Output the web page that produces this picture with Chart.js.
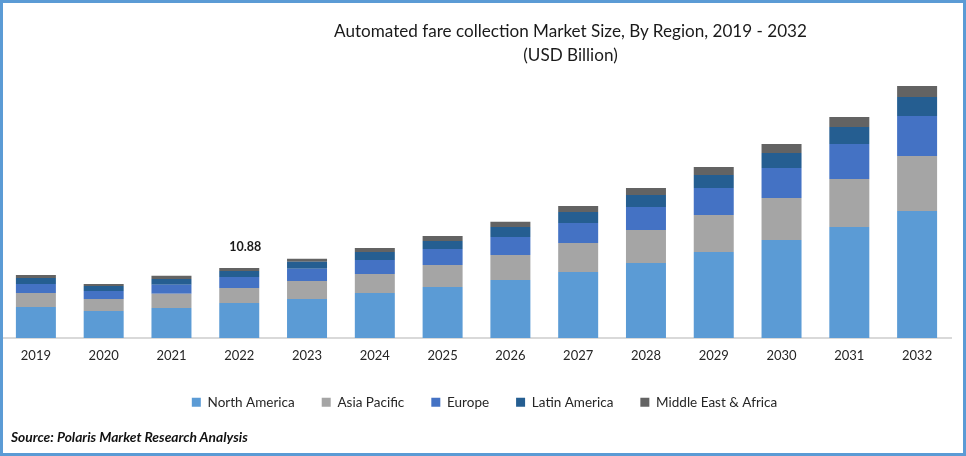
<!DOCTYPE html>
<html><head><meta charset="utf-8">
<style>
html,body{margin:0;padding:0;background:#fff;width:966px;height:456px;overflow:hidden}
#wrap{position:relative;width:966px;height:456px}
canvas{position:absolute;left:0;top:0}
#frame{position:absolute;left:0;top:0;width:966px;height:456px;box-sizing:border-box;border:3px solid #5b9bd5;pointer-events:none}
.t{position:absolute;font-family:Lato,sans-serif;color:#1a1a1a;white-space:nowrap}
#title{left:175px;width:791px;top:19px;text-align:center;font-size:17.1px;line-height:24px}
#source{left:11px;top:428px;font-size:13.8px;font-weight:bold;font-style:italic;color:#111}
</style></head><body>
<div id="wrap">
<canvas id="c" width="966" height="456"></canvas>
<div id="frame"></div>
<div id="title" class="t">Automated fare collection Market Size, By Region, 2019 - 2032<br>(USD Billion)</div>
<div id="source" class="t">Source: Polaris Market Research Analysis</div>
</div>
<script src="https://cdn.jsdelivr.net/npm/chart.js@4"></script>
<script>
const years = ["2019","2020","2021","2022","2023","2024","2025","2026","2027","2028","2029","2030","2031","2032"];
const northAmerica = [4.82,4.20,4.67,5.44,6.07,7.00,7.93,9.02,10.26,11.66,13.37,15.24,17.26,19.75];
const asiaPacific  = [2.18,1.87,2.18,2.33,2.80,2.95,3.42,3.89,4.51,5.13,5.75,6.53,7.47,8.55];
const europe       = [1.40,1.24,1.40,1.71,1.87,2.18,2.49,2.80,3.11,3.58,4.20,4.67,5.44,6.22];
const latinAmerica = [0.93,0.78,0.93,0.93,1.09,1.24,1.24,1.56,1.71,1.87,2.02,2.33,2.64,2.95];
const middleEast   = [0.47,0.31,0.47,0.47,0.47,0.62,0.78,0.78,0.93,1.09,1.24,1.40,1.56,1.71];
const seriesNames = ["North America","Asia Pacific","Europe","Latin America","Middle East & Africa"];
const seriesColors = ["#5b9bd5","#a5a5a5","#4472c4","#255e91","#636363"];
const labelYear = "2022";
const labelText = "10.88";
const labelValue = 10.88;
const yMax = 40.12;

const seriesValues = [northAmerica,asiaPacific,europe,latinAmerica,middleEast];
const valueLabel = {
  id:'valueLabel',
  afterLayout(ch){ ch.legend.left+=8; ch.legend.right+=8; },
  afterDatasetsDraw(ch){
    const x = ch.scales.x.getPixelForValue(years.indexOf(labelYear));
    const y = ch.scales.y.getPixelForValue(labelValue);
    const g = ch.ctx; g.save();
    g.font = 'bold 12.5px Lato, sans-serif'; g.fillStyle='#1a1a1a';
    g.textAlign='center'; g.textBaseline='bottom';
    g.fillText(labelText,x+6,y-15); g.restore();
  }
};
new Chart(document.getElementById('c'),{
  type:'bar',
  data:{labels:years,datasets:seriesNames.map((n,i)=>({
    label:n,data:seriesValues[i],backgroundColor:seriesColors[i],
    stack:'s',barPercentage:0.59,categoryPercentage:1,borderWidth:0
  }))},
  options:{
    responsive:false,animation:false,
    layout:{padding:{left:2,right:15,top:80,bottom:37}},
    plugins:{
      title:{display:false},
      tooltip:{enabled:false},
      legend:{position:'bottom',labels:{boxWidth:9,boxHeight:9,padding:27,color:'#262626',font:{family:'Lato, sans-serif',size:13.5}}}
    },
    scales:{
      x:{stacked:true,grid:{display:false,drawTicks:false},border:{color:'#d9d9d9',width:2},
         afterFit(s){s.height-=5;},
         ticks:{color:'#262626',padding:10,maxRotation:0,font:{family:'Lato, sans-serif',size:13}}},
      y:{stacked:true,display:false,min:0,max:yMax}
    }
  },
  plugins:[valueLabel]
});
</script>
</body></html>
